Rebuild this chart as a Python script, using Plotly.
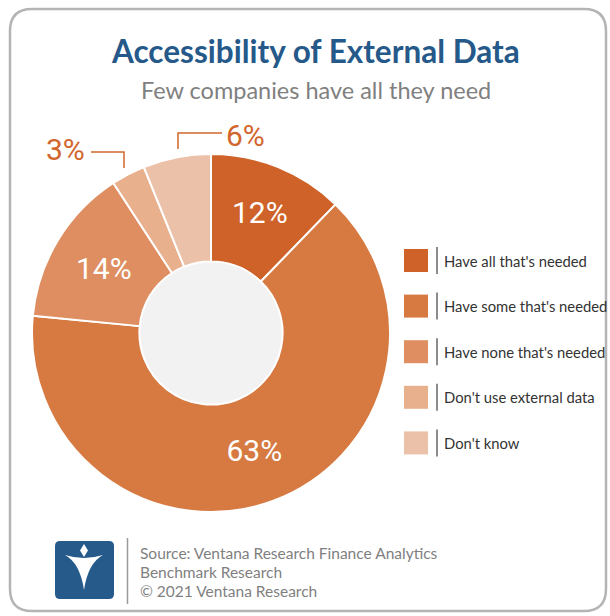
import plotly.graph_objects as go

# ---- data ----
labels = ["Have all that's needed", "Have some that's needed", "Have none that's needed",
          "Don't use external data", "Don't know"]
values = [12, 63, 14, 3, 6]
colors = ["#cf6229", "#d67a42", "#de8e60", "#e8b08c", "#ecc1a9"]
inside_idx = [0, 1, 2]          # slices labelled inside
title = "Accessibility of External Data"
subtitle = "Few companies have all they need"
source_lines = ["Source: Ventana Research Finance Analytics",
                "Benchmark Research",
                "© 2021 Ventana Research"]

W, H = 610, 616
def px(x): return x / W
def py(y): return 1 - y / H

text = [f"{v}%" if i in inside_idx else "" for i, v in enumerate(values)]

fig = go.Figure(go.Pie(
    labels=labels, values=values, sort=False, direction="clockwise", rotation=0,
    hole=0.4,
    marker=dict(colors=colors, line=dict(color="white", width=2)),
    text=text, textinfo="text", textposition="inside",
    insidetextorientation="horizontal",
    insidetextfont=dict(color="white", size=30, family="Roboto"),
    domain=dict(x=[px(32), px(390)], y=[py(512), py(154)]),
    showlegend=False, hoverinfo="label+value",
))

shapes = []
annotations = []

def P(x, y):
    return f"{px(x):.5f},{py(y):.5f}"

def path_px(points, close=False):
    s = "M " + " L ".join(P(x, y) for x, y in points)
    return s + (" Z" if close else "")

def rounded_rect(x0, y0, x1, y1, r):
    return (f"M {P(x0+r, y0)} L {P(x1-r, y0)} Q {P(x1, y0)} {P(x1, y0+r)} "
            f"L {P(x1, y1-r)} Q {P(x1, y1)} {P(x1-r, y1)} "
            f"L {P(x0+r, y1)} Q {P(x0, y1)} {P(x0, y1-r)} "
            f"L {P(x0, y0+r)} Q {P(x0, y0)} {P(x0+r, y0)} Z")

# outer frame
shapes.append(dict(type="path", xref="paper", yref="paper", path=rounded_rect(10, 9, 606, 611, 22),
                   line=dict(color="#b4b4b4", width=2.5), fillcolor="rgba(0,0,0,0)"))
# hole fill (drawn below pie)
cx, cy = 211, 333
shapes.append(dict(type="circle", xref="paper", yref="paper", layer="below",
                   x0=px(cx-100), x1=px(cx+100), y0=py(cy+100), y1=py(cy-100),
                   fillcolor="#f2f2f2", line=dict(width=0)))

# outside labels with connectors
lab_col = "#d2652c"
shapes.append(dict(type="path", xref="paper", yref="paper",
                   path=path_px([(178, 149), (178, 133), (222, 133)]),
                   line=dict(color=lab_col, width=1.5)))
shapes.append(dict(type="path", xref="paper", yref="paper",
                   path=path_px([(91, 152), (124, 152), (124, 168)]),
                   line=dict(color=lab_col, width=1.5)))
annotations.append(dict(x=px(224), y=py(136), xref="paper", yref="paper", text=f"{values[4]}%",
                        showarrow=False, xanchor="left", yanchor="middle",
                        font=dict(color=lab_col, size=30, family="Roboto")))
annotations.append(dict(x=px(87), y=py(150), xref="paper", yref="paper", text=f"{values[3]}%",
                        showarrow=False, xanchor="right", yanchor="middle",
                        font=dict(color=lab_col, size=30, family="Roboto")))

# legend
for i, (lab, col) in enumerate(zip(labels, colors)):
    c = 260.5 + i * 45.6
    shapes.append(dict(type="rect", xref="paper", yref="paper",
                       x0=px(404), x1=px(428), y0=py(c+11.5), y1=py(c-11.5),
                       fillcolor=col, line=dict(width=0)))
    shapes.append(dict(type="line", xref="paper", yref="paper",
                       x0=px(437), x1=px(437), y0=py(c+13.5), y1=py(c-13.5),
                       line=dict(color="#666666", width=1.5)))
    annotations.append(dict(x=px(442), y=py(c), xref="paper", yref="paper", text=lab,
                            showarrow=False, xanchor="left", yanchor="middle",
                            font=dict(color="#333333", size=14.8, family="Lato")))

# title
annotations.append(dict(x=px(315), y=py(51), xref="paper", yref="paper", text=f"<b>{title}</b>",
                        showarrow=False, xanchor="center", yanchor="middle",
                        font=dict(color="#25598a", size=31.5, family="Lato")))
annotations.append(dict(x=px(316), y=py(90), xref="paper", yref="paper", text=subtitle,
                        showarrow=False, xanchor="center", yanchor="middle",
                        font=dict(color="#808080", size=23.5, family="Lato")))

# footer logo
shapes.append(dict(type="path", xref="paper", yref="paper", path=rounded_rect(55, 541, 114, 599, 5),
                   fillcolor="#255a8a", line=dict(width=0)))
shapes.append(dict(type="path", xref="paper", yref="paper",
                   path=(f"M {P(65, 555)} Q {P(84, 561)} {P(103, 555)} "
                         f"Q {P(88, 563)} {P(84, 590)} Q {P(80, 563)} {P(65, 555)} Z"),
                   fillcolor="white", line=dict(width=0)))
shapes.append(dict(type="path", xref="paper", yref="paper",
                   path=path_px([(84, 544), (88, 550.5), (84, 557), (80, 550.5)], close=True),
                   fillcolor="white", line=dict(width=0)))
shapes.append(dict(type="line", xref="paper", yref="paper",
                   x0=px(127.5), x1=px(127.5), y0=py(604), y1=py(538),
                   line=dict(color="#9a9a9a", width=1.5)))
for j, line in enumerate(source_lines):
    annotations.append(dict(x=px(138), y=py(553 + j * 19), xref="paper", yref="paper", text=line,
                            showarrow=False, xanchor="left", yanchor="middle",
                            font=dict(color="#7f7f7f", size=15.5, family="Lato")))

fig.update_layout(width=W, height=H, margin=dict(l=0, r=0, t=0, b=0),
                  paper_bgcolor="white", plot_bgcolor="white",
                  shapes=shapes, annotations=annotations)
fig.write_html("out.html")
